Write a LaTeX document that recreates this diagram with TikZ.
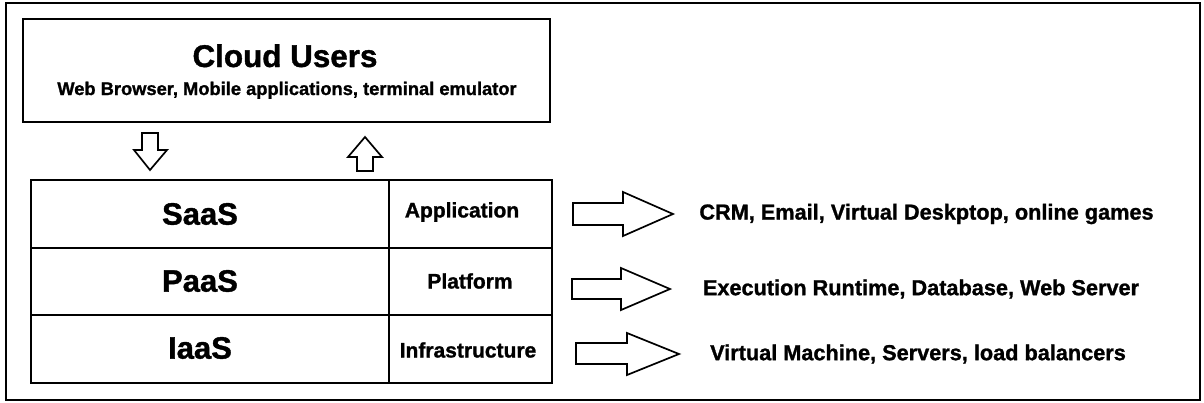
\documentclass[tikz,border=0pt]{standalone}
\usepackage{fontspec}
\setmainfont{Liberation Sans}[BoldFeatures={FakeBold=1.2}]
\begin{document}
\begin{tikzpicture}[x=1pt,y=-1pt,
  frame/.style={draw=black,line width=1.8pt},
  boxline/.style={draw=black,line width=2.8pt},
  blockarrow/.style={draw=black,line width=1.7pt,fill=white,line join=miter},
  title/.style={font=\bfseries\fontsize{31.4}{36}\selectfont,inner sep=0pt},
  subtitle/.style={font=\bfseries\fontsize{18.3}{22}\selectfont,inner sep=0pt},
  layer/.style={font=\bfseries\fontsize{31}{36}\selectfont,inner sep=0pt},
  kind/.style={font=\bfseries\fontsize{21}{25}\selectfont,inner sep=0pt},
  example/.style={font=\bfseries\fontsize{21.7}{26}\selectfont,inner sep=0pt}]
\useasboundingbox (0,0) rectangle (1204,402);
% outer frame
\draw[frame] (6,3) rectangle (1200,400);

% cloud users box
\draw[boxline] (23,19) rectangle (550,122);
\node[title,anchor=base] (users) at (285,67) {Cloud Users};
\node[subtitle,anchor=base] (clients) at (287,95) {Web Browser, Mobile applications, terminal emulator};

% request / response arrows between users and service stack
\draw[blockarrow] (142,133) -- (158,133) -- (158,150) -- (167,150) -- (150,170)
  -- (134,150) -- (142,150) -- cycle;
\draw[blockarrow] (357,171) -- (373,171) -- (373,157) -- (382,157) -- (365,137)
  -- (348,157) -- (357,157) -- cycle;

% service stack table
\draw[boxline] (31,180) rectangle (552,383);
\draw[boxline] (389,180) -- (389,383);
\draw[boxline] (31,248) -- (552,248);
\draw[boxline] (31,315) -- (552,315);

\node[layer] (saas) at (200,214) {SaaS};
\node[layer] (paas) at (200,281) {PaaS};
\node[layer] (iaas) at (200,348) {IaaS};
\node[kind] (app) at (462,212) {Application};
\node[kind] (plat) at (470,281) {Platform};
\node[kind] (infra) at (468,350) {Infrastructure};

% arrows to examples
\draw[blockarrow] (573,203) -- (623,203) -- (623,192) -- (673,214) -- (623,236)
  -- (623,225) -- (573,225) -- cycle;
\draw[blockarrow] (572,279) -- (621,279) -- (621,268) -- (670,289) -- (621,310)
  -- (621,299) -- (572,299) -- cycle;
\draw[blockarrow] (576,343) -- (627,343) -- (627,333) -- (679,354) -- (627,375)
  -- (627,364) -- (576,364) -- cycle;

\node[example] (apps) at (926.5,214) {CRM, Email, Virtual Deskptop, online games};
\node[example] (runtime) at (921,289) {Execution Runtime, Database, Web Server};
\node[example] (machines) at (918,354) {Virtual Machine, Servers, load balancers};
\end{tikzpicture}
\end{document}
